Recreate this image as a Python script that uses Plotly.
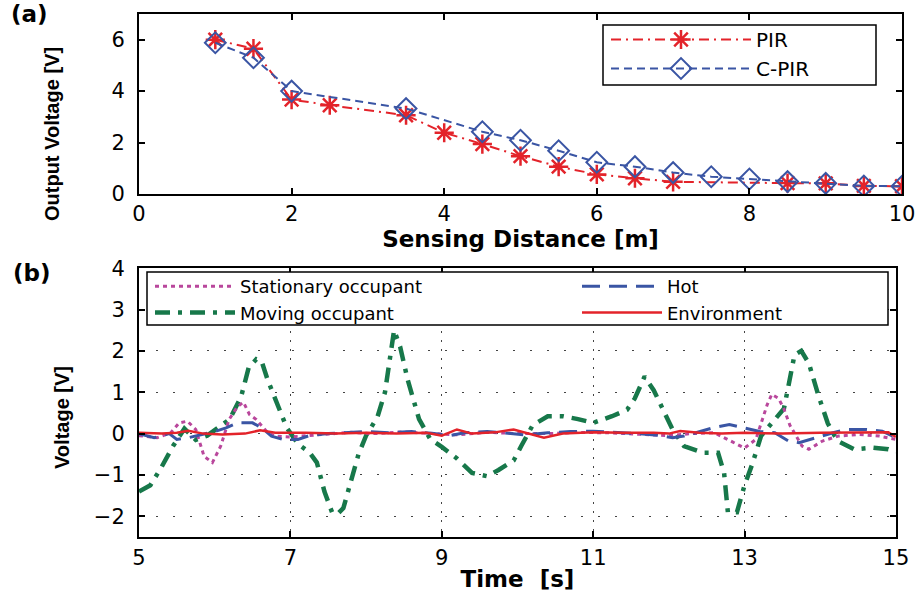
import plotly.graph_objects as go

# ---------------- Panel (a) data ----------------
pir_x = [1, 1.5, 2, 2.5, 3.5, 4, 4.5, 5, 5.5, 6, 6.5, 7, 8.5, 9, 9.5, 10]
pir_y = [6.0, 5.65, 3.67, 3.45, 3.06, 2.38, 1.94, 1.47, 1.06, 0.76, 0.61, 0.47, 0.42, 0.41, 0.31, 0.30]
cpir_x = [1, 1.5, 2, 3.5, 4.5, 5, 5.5, 6, 6.5, 7, 7.5, 8, 8.5, 9, 9.5, 10]
cpir_y = [5.88, 5.3, 4.0, 3.32, 2.42, 2.09, 1.68, 1.23, 1.06, 0.83, 0.67, 0.58, 0.48, 0.41, 0.31, 0.30]

# ---------------- Panel (b) data ----------------
mov_t = [5.0, 5.15, 5.3, 5.45, 5.6, 5.75, 5.9, 6.05, 6.2, 6.35, 6.45, 6.55, 6.62, 6.7, 6.82, 6.95,
         7.1, 7.25, 7.35, 7.45, 7.55, 7.62, 7.7, 7.8, 7.9, 8.0, 8.15, 8.25, 8.3, 8.37, 8.45, 8.55,
         8.7, 8.85, 9.0, 9.2, 9.4, 9.6, 9.75, 9.95, 10.05, 10.2, 10.4, 10.6, 10.8, 11.0, 11.25,
         11.45, 11.55, 11.68, 11.8, 11.92, 12.05, 12.2, 12.45, 12.65, 12.73, 12.78, 12.9, 13.0,
         13.1, 13.22, 13.4, 13.52, 13.58, 13.66, 13.75, 13.85, 13.98, 14.1, 14.23, 14.45, 14.7,
         14.9, 15.0]
mov_v = [-1.40, -1.25, -0.8, -0.3, 0.12, -0.15, -0.05, 0.15, 0.35, 0.9, 1.6, 1.8, 1.75, 1.3, 0.72,
         0.15, -0.25, -0.45, -0.7, -1.4, -1.9, -1.95, -1.8, -1.1, -0.5, -0.05, 0.4, 1.0, 1.7, 2.5,
         2.1, 1.3, 0.35, -0.14, -0.32, -0.6, -0.95, -1.03, -0.88, -0.65, -0.3, 0.2, 0.42, 0.42,
         0.35, 0.26, 0.42, 0.58, 0.85, 1.38, 1.05, 0.6, 0.1, -0.3, -0.46, -0.46, -0.95, -1.9,
         -1.9, -1.25, -0.75, -0.05, 0.35, 0.6, 1.15, 1.9, 2.0, 1.7, 0.9, 0.25, -0.18, -0.38,
         -0.34, -0.38, -0.45]

stat_t = [5.0, 5.24, 5.42, 5.53, 5.64, 5.75, 5.86, 5.97, 6.08, 6.19, 6.3, 6.38, 6.46, 6.55, 6.7,
          6.8, 7.0, 7.2, 7.5, 7.8, 8.1, 8.5, 8.9, 9.2, 9.6, 10.0, 10.4, 10.8, 11.2, 11.6, 12.0,
          12.3, 12.6, 12.84, 13.0, 13.15, 13.23, 13.3, 13.36, 13.45, 13.52, 13.6, 13.76, 13.85,
          14.03, 14.24, 14.5, 14.78, 15.0]
stat_v = [-0.05, -0.1, 0.02, 0.26, 0.3, 0.1, -0.55, -0.7, -0.3, 0.34, 0.65, 0.76, 0.46, 0.34,
          0.02, -0.06, -0.08, -0.05, 0.0, 0.03, 0.0, 0.04, 0.0, -0.03, 0.03, 0.0, 0.0, 0.03,
          0.02, -0.02, -0.05, 0.0, 0.02, -0.2, -0.35, -0.14, 0.34, 0.7, 0.95, 0.85, 0.6, 0.2,
          -0.3, -0.38, -0.18, -0.06, -0.02, -0.06, -0.14]

hot_t = [5.0, 5.2, 5.4, 5.5, 5.65, 5.82, 6.0, 6.15, 6.3, 6.5, 6.62, 6.75, 6.9, 7.1, 7.25, 7.5,
         7.8, 8.0, 8.3, 8.6, 8.9, 9.1, 9.3, 9.6, 9.8, 10.1, 10.4, 10.7, 11.0, 11.3, 11.6, 11.9,
         12.05, 12.2, 12.4, 12.6, 12.8, 13.0, 13.2, 13.4, 13.58, 13.72, 13.94, 14.17, 14.35,
         14.6, 14.82, 15.0]
hot_v = [0.0, -0.1, 0.0, -0.14, -0.1, -0.02, 0.05, 0.14, 0.26, 0.26, 0.14, -0.06, -0.14, -0.14,
         -0.05, 0.0, 0.02, 0.05, 0.02, 0.05, 0.0, -0.05, 0.02, 0.05, 0.02, -0.03, 0.02, 0.05,
         0.06, 0.03, 0.0, -0.05, -0.1, -0.06, 0.05, 0.15, 0.22, 0.14, 0.05, 0.02, -0.18, -0.22,
         -0.1, 0.02, 0.1, 0.1, 0.06, -0.1]

env_t = [5.0, 5.3, 5.5, 5.65, 5.85, 6.1, 6.4, 6.6, 6.8, 7.2, 7.6, 8.0, 8.4, 8.8, 9.0, 9.2, 9.4,
         9.7, 9.95, 10.15, 10.35, 10.6, 11.0, 11.4, 11.8, 12.0, 12.15, 12.4, 12.7, 13.0, 13.5,
         14.0, 14.5, 14.9, 15.0]
env_v = [0.02, 0.0, 0.02, 0.07, 0.0, -0.02, 0.0, 0.08, 0.02, 0.02, 0.0, 0.02, 0.0, 0.02, -0.05,
         0.1, 0.0, 0.03, 0.1, 0.0, -0.1, 0.0, 0.03, 0.02, 0.02, 0.0, 0.06, 0.02, 0.0, 0.02, 0.0,
         0.02, 0.03, 0.03, -0.08]

a_xticks = [0, 2, 4, 6, 8, 10]
a_yticks = [0, 2, 4, 6]
b_xticks = [5, 7, 9, 11, 13, 15]
b_yticks = [-2, -1, 0, 1, 2, 3, 4]

RED = "#e3232a"
BLUE = "#3a55a4"
PINK = "#b9479c"
GREEN = "#17784a"
NUM_FONT = dict(family="DejaVu Sans", size=21, color="black")
TITLE_FONT = dict(family="DejaVu Sans", size=23, color="black", weight="bold")
YT_FONT = dict(family="Liberation Sans", size=20, color="black", weight="bold")

# pixel geometry of the page
W, H = 923, 593
L, R, T, B = 139, 21, 14, 56
pw, ph = W - L - R, H - T - B


def px_x(px):
    return (px - L) / pw


def px_y(py):
    return (H - B - py) / ph


fig = go.Figure()

fig.add_trace(go.Scatter(
    x=pir_x, y=pir_y, name="PIR", mode="lines+markers", xaxis="x", yaxis="y",
    line=dict(color=RED, width=2, dash="10px,5px,2px,5px"),
    marker=dict(symbol="asterisk-open", size=16, color=RED, line=dict(color=RED, width=2.5)),
    legend="legend"))
fig.add_trace(go.Scatter(
    x=cpir_x, y=cpir_y, name="C-PIR", mode="lines+markers", xaxis="x", yaxis="y",
    line=dict(color=BLUE, width=2, dash="8px,5px"),
    marker=dict(symbol="diamond-open", size=16, color=BLUE, line=dict(color=BLUE, width=2)),
    legend="legend"))

fig.add_trace(go.Scatter(
    x=mov_t, y=mov_v, name="Moving occupant", mode="lines", xaxis="x2", yaxis="y2",
    line=dict(color=GREEN, width=4.5, dash="15px,8px,4px,8px"), legend="legend2", legendrank=2))
fig.add_trace(go.Scatter(
    x=stat_t, y=stat_v, name="Stationary occupant", mode="lines", xaxis="x2", yaxis="y2",
    line=dict(color=PINK, width=3, dash="4px,4px"), legend="legend2", legendrank=1))
fig.add_trace(go.Scatter(
    x=hot_t, y=hot_v, name="Hot", mode="lines", xaxis="x2", yaxis="y2",
    line=dict(color=BLUE, width=3, dash="18px,9px"), legend="legend3", legendrank=1))
fig.add_trace(go.Scatter(
    x=env_t, y=env_v, name="Environment", mode="lines", xaxis="x2", yaxis="y2",
    line=dict(color=RED, width=2.5), legend="legend3", legendrank=2))

axis_common = dict(showline=True, linecolor="black", linewidth=2, mirror="ticks",
                   ticks="inside", ticklen=6, tickwidth=1.5, tickcolor="black",
                   tickfont=NUM_FONT, zeroline=False, automargin=False)

leg_a_font = dict(family="DejaVu Sans", size=20, color="black")
leg_b_font = dict(family="DejaVu Sans", size=18, color="black")
clear = "rgba(0,0,0,0)"

fig.update_layout(
    width=W, height=H,
    paper_bgcolor="white", plot_bgcolor="white",
    margin=dict(l=L, r=R, t=T, b=B),
    xaxis=dict(domain=[0, 1], range=[0, 10], tickvals=a_xticks, anchor="y",
               showgrid=False, ticklabelstandoff=0,
               title=dict(text="Sensing Distance [m]", font=TITLE_FONT, standoff=3),
               **axis_common),
    yaxis=dict(domain=[0.656, 1.0], range=[0, 7], tickvals=a_yticks, anchor="x",
               showgrid=False, ticklabelstandoff=8, **axis_common),
    xaxis2=dict(domain=[0, 0.992], range=[5, 15], tickvals=b_xticks, anchor="y2",
                showgrid=True, gridcolor="#444444", gridwidth=1, griddash="2px,7px",
                ticklabelstandoff=1,
                title=dict(text="Time  [s]", font=TITLE_FONT, standoff=2),
                **axis_common),
    yaxis2=dict(domain=[0, 0.514], range=[-2.5, 4], tickvals=b_yticks, anchor="x2",
                showgrid=True, gridcolor="#444444", gridwidth=1, griddash="2px,15px",
                ticklabelstandoff=8, **axis_common),
    legend=dict(x=px_x(606), y=px_y(20), xanchor="left", yanchor="top",
                bgcolor=clear, borderwidth=0, font=leg_a_font,
                itemwidth=140, tracegroupgap=0),
    legend2=dict(x=px_x(150), y=px_y(268), xanchor="left", yanchor="top",
                 bgcolor=clear, borderwidth=0, font=leg_b_font,
                 itemwidth=80, tracegroupgap=0),
    legend3=dict(x=px_x(577), y=px_y(268), xanchor="left", yanchor="top",
                 bgcolor=clear, borderwidth=0, font=leg_b_font,
                 itemwidth=80, tracegroupgap=0),
    showlegend=True,
    shapes=[
        dict(type="rect", xref="paper", yref="paper",
             x0=px_x(603), x1=px_x(876), y0=px_y(25), y1=px_y(85),
             fillcolor="white", line=dict(color="black", width=1.5), layer="above"),
        dict(type="rect", xref="paper", yref="paper",
             x0=px_x(147), x1=px_x(888), y0=px_y(272), y1=px_y(325),
             fillcolor="white", line=dict(color="black", width=1.5), layer="above"),
    ],
)

annots = [
    dict(text="Output Voltage [V]", textangle=-90, px=52, py=134, font=YT_FONT),
    dict(text="Voltage [V]", textangle=-90, px=62, py=418, font=YT_FONT),
    dict(text="(a)", textangle=0, px=29, py=14, font=TITLE_FONT),
    dict(text="(b)", textangle=0, px=32, py=273, font=TITLE_FONT),
]
for a in annots:
    fig.add_annotation(text=a["text"], textangle=a["textangle"], xref="paper", yref="paper",
                       x=px_x(a["px"]), y=px_y(a["py"]), xanchor="center", yanchor="middle",
                       showarrow=False, font=a["font"])

fig.write_html("out.html", config={"displayModeBar": False},
               post_script="document.body.style.margin='0px';")
